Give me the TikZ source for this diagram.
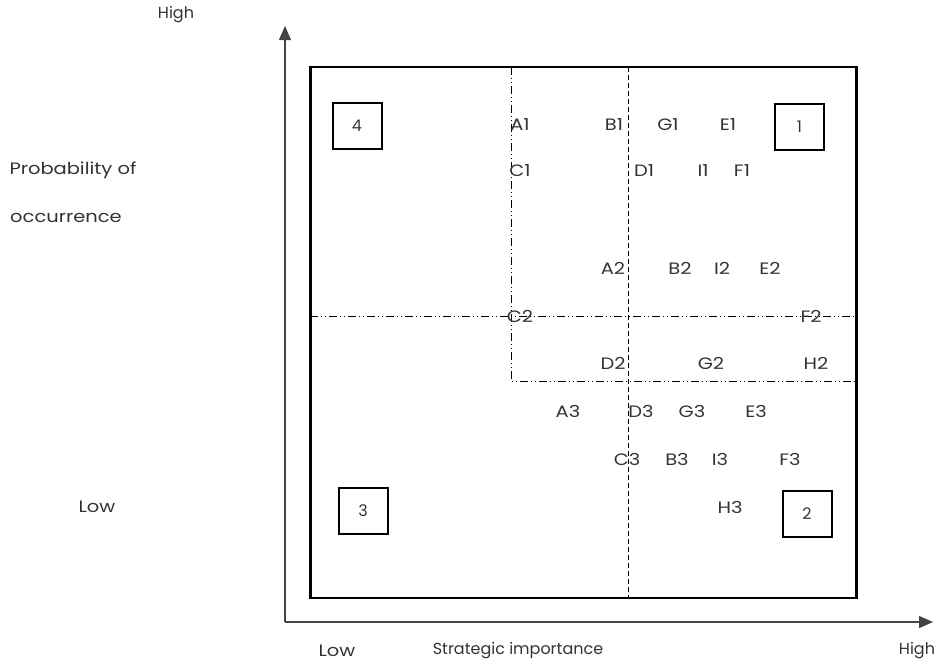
\documentclass[tikz,border=0pt]{standalone}
\usepackage{fontspec}
\setmainfont{Poppins}
\newfontfamily\widefont[FakeStretch=1.18]{Poppins}
\usetikzlibrary{arrows.meta}
\definecolor{txt}{HTML}{333333}
\definecolor{axis}{HTML}{444444}
\begin{document}
\begin{tikzpicture}[x=1pt,y=-1pt,
  lbl/.style={font=\fontsize{16}{19}\selectfont, text=txt, inner sep=0pt, anchor=center},
  item/.style={font=\widefont\fontsize{16.5}{19}\selectfont, text=txt, inner sep=0pt, anchor=center},
  quad/.style={draw, line width=2pt, minimum width=49pt, minimum height=46pt, inner sep=0pt,
    font=\fontsize{16}{19}\selectfont, text=txt},
  axisline/.style={draw=axis, line width=1.3pt, -{Triangle[length=14pt,width=12pt]}},
  dashdotdot/.style={line width=0.8pt, dash pattern=on 8pt off 3pt on 1pt off 3pt on 1pt off 3pt},
  dashline/.style={line width=0.8pt, dash pattern=on 5pt off 3pt}]
\useasboundingbox (0,0) rectangle (947,665);

% axes
\coordinate (origin) at (285,622);
\coordinate (ytip) at (285,26);
\coordinate (xtip) at (933,622);
\draw[axisline] (origin) -- (ytip);
\draw[axisline] (origin) -- (xtip);

% matrix frame
\node[draw, line width=2.2pt, minimum width=546pt, minimum height=531pt, inner sep=0pt] (frame) at (583.5,332.5) {};

% division lines
\coordinate (vtop) at (628,67);
\coordinate (vbot) at (628,598);
\draw[dashline] (vtop) -- (vbot);
\coordinate (hl) at (310,316);
\coordinate (hr) at (856,316);
\draw[dashdotdot] (hl) -- (hr);
\coordinate (ctop) at (511,67);
\coordinate (ccorner) at (511,381);
\coordinate (cright) at (856,381);
\draw[dashdotdot] (ctop) -- (ccorner) -- (cright);

% quadrant numbers
\node[quad] (q4) at (357,126) {4};
\node[quad] (q1) at (799.5,126.5) {1};
\node[quad] (q3) at (363,510.5) {3};
\node[quad] (q2) at (807,513.5) {2};

% axis labels
\node[lbl] (yhigh) at (176,15) {High};
\node[item] (prob) at (73,170) {Probability of};
\node[item] (occ) at (66,218) {occurrence};
\node[item] (ylow) at (97,507) {Low};
\node[item] (xlow) at (337,651) {Low};
\node[lbl] (xname) at (518,651) {Strategic importance};
\node[lbl] (xhigh) at (917,651) {High};

% items
\node[item] (A1) at (520,125) {A1};
\node[item] (B1) at (614,125) {B1};
\node[item] (G1) at (668,125) {G1};
\node[item] (E1) at (728,125) {E1};
\node[item] (C1) at (520,171) {C1};
\node[item] (D1) at (644,171) {D1};
\node[item] (I1) at (703,171) {I1};
\node[item] (F1) at (742,171) {F1};
\node[item] (A2) at (613,268) {A2};
\node[item] (B2) at (680,268) {B2};
\node[item] (I2) at (722,268) {I2};
\node[item] (E2) at (770,268) {E2};
\node[item] (C2) at (520,316) {C2};
\node[item] (F2) at (811,316) {F2};
\node[item] (D2) at (613,363) {D2};
\node[item] (G2) at (711,363) {G2};
\node[item] (H2) at (816,363) {H2};
\node[item] (A3) at (568,411) {A3};
\node[item] (D3) at (641,411) {D3};
\node[item] (G3) at (692,411) {G3};
\node[item] (E3) at (756,411) {E3};
\node[item] (C3) at (627,459) {C3};
\node[item] (B3) at (677,459) {B3};
\node[item] (I3) at (720,459) {I3};
\node[item] (F3) at (790,459) {F3};
\node[item] (H3) at (730,507) {H3};
\end{tikzpicture}
\end{document}
